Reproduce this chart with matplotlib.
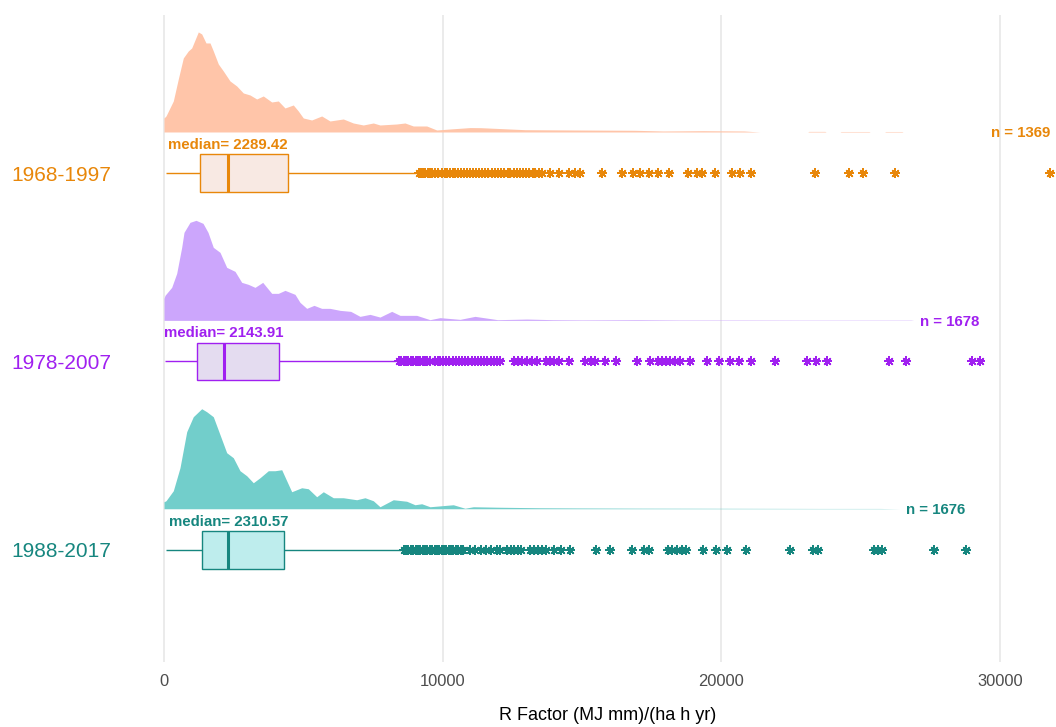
import matplotlib
matplotlib.use('Agg')
import matplotlib.pyplot as plt
from matplotlib.patches import Rectangle

plt.rcParams['font.family'] = ['Liberation Sans', 'DejaVu Sans']

# ---------------- data ----------------
groups = ['1968-1997', '1978-2007', '1988-2017']
group_pos = [3, 2, 1]
line_colors = ['#E8870A', '#A020F0', '#16867F']
density_colors = ['#FFC5A9', '#CCA6FC', '#72CECB']
box_colors = ['#F8E9E3', '#E4DCF0', '#BEEDED']

n_counts = [1369, 1678, 1676]
medians = [2289.42, 2143.91, 2310.57]
q1 = [1292, 1196, 1375]
q3 = [4439, 4127, 4306]
whisk_lo = [60, 30, 60]
whisk_hi = [9100, 8380, 8550]

# scaled density (peak = 1)
dens_x_1968 = [0, 72, 334, 513, 693, 872, 994, 1231, 1353, 1507, 1651, 1769, 1949, 2128,
               2368, 2609, 2846, 3086, 3327, 3563, 3865, 4102, 4342, 4640, 4819, 4999, 5300,
               5659, 5957, 6434, 6793, 7152, 7511, 7751, 8351, 8648, 8946, 9427, 9786, 10263,
               10981, 11365, 12955, 14713, 16888, 17906, 19342, 20813, 21388, 23100, 23135,
               23720, 23760, 24260, 24295, 25300, 25340, 25860, 25895, 26483, 26520]
dens_y_1968 = [0.14, 0.16, 0.31, 0.53, 0.74, 0.81, 0.84, 1.00, 0.98, 0.89, 0.89, 0.81, 0.68, 0.61,
               0.51, 0.46, 0.39, 0.37, 0.33, 0.36, 0.30, 0.31, 0.24, 0.27, 0.21, 0.14, 0.12,
               0.16, 0.11, 0.13, 0.09, 0.07, 0.09, 0.07, 0.08, 0.09, 0.06, 0.06, 0.02, 0.03,
               0.044, 0.043, 0.023, 0.02, 0.017, 0.01, 0.013, 0.01, 0.0, 0.0, 0.006,
               0.006, 0.0, 0.0, 0.005, 0.005, 0.0, 0.0, 0.005, 0.005, 0.0]

dens_x_1978 = [0, 36, 276, 456, 635, 718, 933, 1148, 1400, 1579, 1769, 2010, 2250, 2548, 2788,
               3025, 3266, 3542, 3865, 4102, 4342, 4701, 4880, 5121, 5383, 5659, 5957, 6316,
               6700, 7033, 7392, 7751, 8171, 8469, 9068, 9545, 9904, 10622, 11160, 11968,
               13026, 13952, 15000, 16999, 18500, 20500, 22800, 24500, 26806, 26900]
dens_y_1978 = [0.22, 0.25, 0.33, 0.47, 0.73, 0.88, 0.98, 1.00, 0.97, 0.88, 0.73, 0.68, 0.53,
               0.49, 0.38, 0.36, 0.33, 0.38, 0.27, 0.27, 0.30, 0.26, 0.18, 0.12, 0.15, 0.12,
               0.12, 0.10, 0.09, 0.04, 0.06, 0.033, 0.09, 0.05, 0.05, 0.007, 0.027, 0.01, 0.04,
               0.007, 0.013, 0.007, 0.005, 0.007, 0.004, 0.004, 0.003, 0.003, 0.003, 0.0]

dens_x_1988 = [0, 72, 334, 574, 815, 1051, 1353, 1532, 1769, 2010, 2250, 2487, 2727, 2968,
               3205, 3445, 3743, 3983, 4224, 4403, 4583, 4941, 5178, 5480, 5717, 6075, 6434,
               6915, 7213, 7511, 7751, 8228, 8709, 9007, 9248, 9545, 10382, 10801, 11099,
               12057, 13493, 14928, 17081, 19235, 21388, 23540, 25694, 26412]
dens_y_1988 = [0.07, 0.08, 0.18, 0.41, 0.77, 0.92, 1.00, 0.97, 0.92, 0.74, 0.56, 0.51, 0.38,
               0.33, 0.26, 0.31, 0.38, 0.38, 0.39, 0.28, 0.17, 0.21, 0.20, 0.12, 0.17, 0.11,
               0.11, 0.09, 0.11, 0.08, 0.02, 0.09, 0.075, 0.04, 0.05, 0.02, 0.04, 0.005, 0.02,
               0.015, 0.01, 0.008, 0.006, 0.005, 0.004, 0.003, 0.003, 0.0]

out_1968 = [9142, 9217, 9291, 9366, 9456, 9546, 9635, 9740, 9845, 9964, 10069, 10159, 10263,
            10368, 10458, 10562, 10667, 10757, 10861, 10981, 11085, 11190, 11310, 11415, 11534,
            11639, 11758, 11878, 11983, 12102, 12207, 12327, 12431, 12551, 12656, 12775, 12880,
            13000, 13104, 13224, 13329, 13448, 13553, 13852, 14181, 14525, 14749, 14928, 15721,
            16438, 16842, 17066, 17410, 17739, 18113, 18786, 19115, 19309, 19787, 20386, 20655,
            21058, 23376, 24587, 25066, 26232, 31794]
out_1978 = [8431, 8516, 8601, 8686, 8772, 8857, 8942, 9027, 9112, 9197, 9282, 9367, 9452, 9537,
            9735, 9820, 9905, 10019, 10132, 10245, 10359, 10472, 10586, 10699, 10812, 10926,
            11039, 11153, 11266, 11379, 11493, 11606, 11720, 11833, 11946, 12060, 12570, 12712,
            12853, 13023, 13207, 13392, 13704, 13845, 13987, 14157, 14526, 15121, 15334, 15476,
            15830, 16227, 16963, 17431, 17743, 17885, 18027, 18168, 18353, 18522, 18877, 19486,
            19911, 20294, 20648, 21074, 21924, 23058, 23412, 23809, 26006, 26644, 29011, 29266]
out_1988 = [8601, 8686, 8771, 8857, 8942, 9027, 9112, 9197, 9282, 9367, 9452, 9537, 9622, 9707,
            9792, 9877, 9962, 10047, 10132, 10217, 10302, 10387, 10472, 10557, 10642, 10727,
            10982, 11153, 11365, 11549, 11720, 11932, 12074, 12315, 12456, 12570, 12712, 12825,
            13137, 13278, 13420, 13562, 13704, 13987, 14242, 14582, 15518, 16014, 16793, 17219,
            17417, 18069, 18239, 18409, 18593, 18735, 19344, 19826, 20195, 20889, 22463, 23285,
            23483, 25467, 25637, 25779, 27622, 28770]

dens_x = [dens_x_1968, dens_x_1978, dens_x_1988]
dens_y = [dens_y_1968, dens_y_1978, dens_y_1988]
outliers = [out_1968, out_1978, out_1988]

x_ticks = [0, 10000, 20000, 30000]

# ---------------- layout ----------------
W, H = 1056, 727
fig = plt.figure(figsize=(W / 100, H / 100), dpi=100)
ax_left, ax_right, ax_top, ax_bottom = 120, 1056, 15, 662
ax = fig.add_axes([ax_left / W, 1 - ax_bottom / H, (ax_right - ax_left) / W, (ax_bottom - ax_top) / H])

px_per_unit = (1000 - 164) / 30000.0
ax.set_xlim((ax_left - 164) / px_per_unit, (ax_right - 164) / px_per_unit)
ax.set_ylim(0.4045, 3.839)

ridge_offset = 0.218
ridge_height = 0.531
box_half = 0.0998

for i, g in enumerate(groups):
    pos = group_pos[i]
    c = line_colors[i]
    base = pos + ridge_offset
    top = [base + v * ridge_height for v in dens_y[i]]
    ax.fill_between(dens_x[i], base, top, color=density_colors[i], lw=0, zorder=2)

    # whiskers
    ax.plot([whisk_lo[i], q1[i]], [pos, pos], color=c, lw=1.0, zorder=3, solid_capstyle='butt')
    ax.plot([q3[i], whisk_hi[i]], [pos, pos], color=c, lw=1.0, zorder=3, solid_capstyle='butt')
    # box
    ax.add_patch(Rectangle((q1[i], pos - box_half), q3[i] - q1[i], 2 * box_half,
                           facecolor=box_colors[i], edgecolor=c, lw=1.0, zorder=3))
    ax.plot([medians[i], medians[i]], [pos - box_half, pos + box_half], color=c, lw=2.2,
            zorder=4, solid_capstyle='butt')
    # outliers (asterisks)
    ax.plot(outliers[i], [pos] * len(outliers[i]), linestyle='none', marker=(4, 2, 0),
            markersize=6.5, markeredgewidth=1.1, color=c, zorder=4)
    ax.plot(outliers[i], [pos] * len(outliers[i]), linestyle='none', marker=(4, 2, 45),
            markersize=6.5, markeredgewidth=1.1, color=c, zorder=4)

    ax.text(medians[i], pos + 0.149, f'median= {medians[i]:.2f}', ha='center', va='center',
            fontsize=10.8, fontweight='bold', color=c, zorder=5)
    ax.text(max(outliers[i]), pos + 0.21, f'n = {n_counts[i]}', ha='right', va='center',
            fontsize=10.8, fontweight='bold', color=c, zorder=5)

# axes styling
for s in ax.spines.values():
    s.set_visible(False)
ax.set_xticks(x_ticks)
ax.set_xticklabels([str(t) for t in x_ticks], fontsize=11.9, color='#4D4D4D')
ax.set_yticks(group_pos)
ax.set_yticklabels(groups, fontsize=15)
for lab, c in zip(ax.get_yticklabels(), line_colors):
    lab.set_color(c)
ax.tick_params(axis='both', length=0)
ax.tick_params(axis='x', pad=9)
ax.tick_params(axis='y', pad=6)
ax.grid(axis='x', color='#EBEBEB', lw=1.4, zorder=0)
ax.set_axisbelow(True)

ax.set_xlabel('R Factor (MJ mm)/(ha h yr)', fontsize=13, color='black')
ax.xaxis.set_label_coords((608 - ax_left) / (ax_right - ax_left), -(716 - ax_bottom) / (ax_bottom - ax_top))
ax.xaxis.label.set_va('center')

fig.savefig('out.png', dpi=100)
